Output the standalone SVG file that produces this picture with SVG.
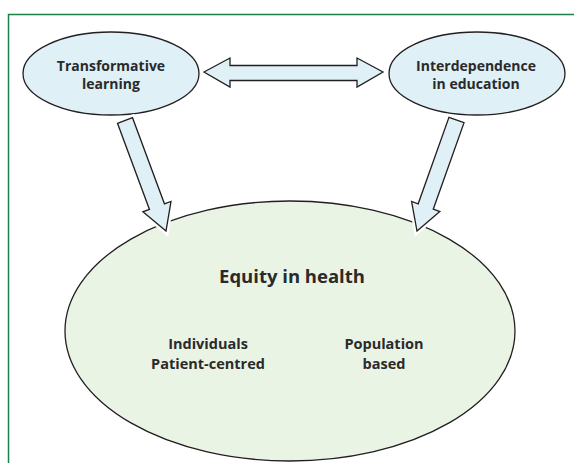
<svg xmlns="http://www.w3.org/2000/svg" width="574" height="463" viewBox="0 0 574 463">
<style>
.lbl{font-family:"Open Sans","Liberation Sans",sans-serif;font-weight:bold;fill:#2a2a2a;text-anchor:middle}
.blue{fill:#dff0f7;stroke:#231f20;stroke-width:1.3}
.green{fill:#eaf4e5;stroke:#231f20;stroke-width:1.3}
.arr{fill:#dff0f7;stroke:#231f20;stroke-width:1.3;stroke-linejoin:miter}
.halo{fill:none;stroke:#ffffff;stroke-width:6;stroke-linejoin:miter}
</style>
<rect width="574" height="463" fill="#ffffff"/>
<path d="M8.5,463 V14.5 H574" fill="none" stroke="#1b8048" stroke-width="1.5"/>
<g id="equity">
<ellipse class="green" cx="290" cy="331" rx="225" ry="130"/>
<text class="lbl" x="292" y="283" font-size="18.5">Equity in health</text>
<text class="lbl" x="208" y="349" font-size="14.5">Individuals</text>
<text class="lbl" x="208" y="369" font-size="14.5">Patient-centred</text>
<text class="lbl" x="384" y="349" font-size="14.5">Population</text>
<text class="lbl" x="384" y="369" font-size="14.5">based</text>
</g>
<g id="transformative">
<ellipse class="blue" cx="111" cy="73.5" rx="88" ry="41.5"/>
<text class="lbl" x="111" y="71" font-size="14">Transformative</text>
<text class="lbl" x="111" y="89" font-size="14">learning</text>
</g>
<g id="interdependence">
<ellipse class="blue" cx="477" cy="73.5" rx="88" ry="41.5"/>
<text class="lbl" x="476" y="71" font-size="14">Interdependence</text>
<text class="lbl" x="476" y="89" font-size="14">in education</text>
</g>
<g id="connectors">
<polygon class="arr" points="204,72 230,58 230,65.5 357,65.5 357,58 383,72 357,87 357,80.5 230,80.5 230,87"/>
<polygon class="halo" points="117.5,123.3 132.5,117.7 164.45,203.8 171,201.4 166,231 142.9,211.8 149.45,209.4"/>
<polygon class="arr" points="117.5,123.3 132.5,117.7 164.45,203.8 171,201.4 166,231 142.9,211.8 149.45,209.4"/>
<polygon class="halo" points="448.96,117.32 464.04,122.68 433.25,209.19 439.84,211.54 417,231 411.58,201.48 418.17,203.83"/>
<polygon class="arr" points="448.96,117.32 464.04,122.68 433.25,209.19 439.84,211.54 417,231 411.58,201.48 418.17,203.83"/>
</g>
</svg>
